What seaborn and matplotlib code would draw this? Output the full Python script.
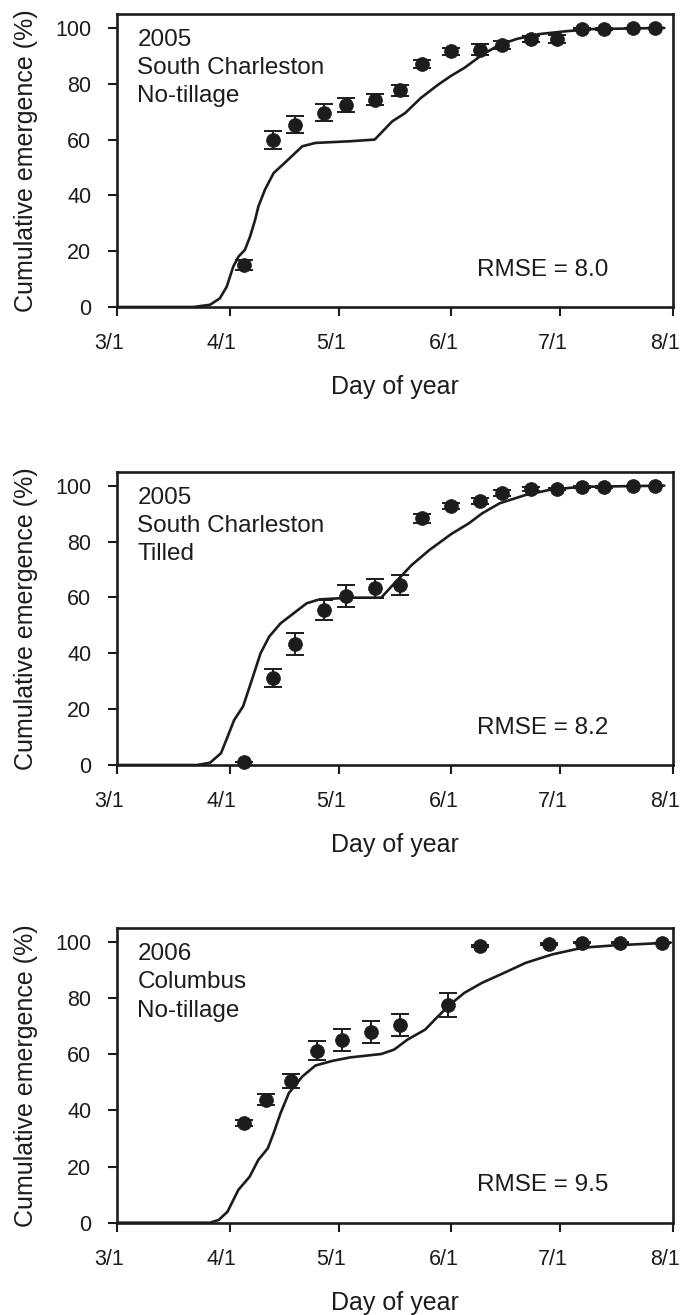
import matplotlib
matplotlib.use("Agg")
import matplotlib.pyplot as plt
import matplotlib.transforms as mtransforms
import seaborn as sns

sns.set_style("ticks")
plt.rcParams['font.family'] = ['Liberation Sans', 'DejaVu Sans']

# ---------------- data (x = day of year; 3/1 = DOY 60) ----------------
tick_doy = [60, 91, 121, 152, 182, 213]
tick_labels = ["3/1", "4/1", "5/1", "6/1", "7/1", "8/1"]
y_ticks = [0, 20, 40, 60, 80, 100]

panel_titles = [["2005", "South Charleston", "No-tillage"],
                ["2005", "South Charleston", "Tilled"],
                ["2006", "Columbus", "No-tillage"]]
rmse_labels = ["RMSE = 8.0", "RMSE = 8.2", "RMSE = 9.5"]

# observed
obs1_x = [95, 103, 109, 117, 123, 131, 138, 144, 152, 160, 166, 174, 181, 188, 194, 202, 208]
obs1_y = [15, 60, 65.4, 69.6, 72.5, 74.3, 77.7, 87.1, 91.6, 92.2, 94.0, 96.1, 96.1, 99.6, 99.6, 100, 100]
obs1_e = [1.8, 3.2, 3.0, 3.0, 2.5, 2.0, 2.0, 1.5, 1.2, 2.0, 1.5, 1.0, 1.5, 0.5, 0.5, 0, 0]

obs2_x = [95, 103, 109, 117, 123, 131, 138, 144, 152, 160, 166, 174, 181, 188, 194, 202, 208]
obs2_y = [1, 31.2, 43.3, 55.5, 60.5, 63.2, 64.4, 88.3, 92.8, 94.5, 97.3, 98.8, 98.8, 99.6, 99.6, 100, 100]
obs2_e = [0, 3.2, 4.0, 3.5, 4.0, 3.5, 3.5, 1.5, 1.0, 1.0, 1.0, 0.8, 0.5, 0.3, 0.3, 0, 0]

obs3_x = [95, 101, 108, 115, 122, 130, 138, 151, 160, 179, 188, 198.5, 210]
obs3_y = [35.5, 43.8, 50.6, 61.3, 65.0, 67.9, 70.5, 77.5, 98.6, 99.4, 99.8, 99.8, 99.8]
obs3_e = [1.0, 2.0, 2.5, 3.5, 4.0, 4.0, 4.0, 4.3, 0.5, 0.3, 0.3, 0.2, 0]

# simulated
sim1_x = [60, 81, 85.6, 88.3, 90.2, 92, 93.4, 95.2, 96.6, 98, 98.9, 100.7, 103.1, 106.1, 111, 114.6,
          124.2, 130.9, 132.7, 135.7, 139.3, 143.6, 148.4, 152, 155.6, 160.5, 165.3, 170.1, 176.2,
          183.4, 190.7, 210.6]
sim1_y = [0, 0, 0.8, 3.1, 7.3, 14.5, 18, 20.5, 25.2, 31.2, 36, 42, 48, 51.6, 57.6, 58.8,
          59.4, 60, 62.4, 66.5, 69.5, 74.9, 79.7, 82.9, 85.7, 90.4, 94, 96.1, 97.8,
          98.8, 99.6, 100]

sim2_x = [60, 82, 85.6, 88.6, 90.4, 92.2, 94.7, 97.1, 99.5, 101.9, 105, 108.6, 112.2, 115.8,
          124.2, 132.7, 136.3, 141.1, 146, 152, 156.8, 160.5, 165.3, 172.5, 179.8, 188.2, 210.6]
sim2_y = [0, 0, 0.8, 4.2, 10, 16, 21, 30.4, 40, 46, 50.7, 54.3, 57.9, 59.3,
          59.9, 59.9, 65, 71.6, 77, 82.7, 86.5, 90.1, 93.7, 96.7, 98.7, 99.6, 100]

sim3_x = [60, 85.6, 88, 90.4, 93.4, 96.5, 98.9, 101.5, 103.1, 105, 107.3, 111, 114.6, 119.4,
          124.2, 132.7, 136.3, 139.9, 144.8, 148.4, 152, 155.6, 160.5, 166.5, 172.5, 179.8,
          188.2, 196.7, 212.4]
sim3_y = [0, 0, 1, 3.9, 11.7, 16.4, 22.4, 26.5, 31.9, 39, 46.2, 52.1, 56, 57.7,
          58.9, 60.1, 61.7, 65.2, 68.8, 73.6, 78.1, 81.9, 85.5, 89, 92.6, 95.6,
          98, 98.8, 99.8]

obs = [(obs1_x, obs1_y, obs1_e), (obs2_x, obs2_y, obs2_e), (obs3_x, obs3_y, obs3_e)]
sim = [(sim1_x, sim1_y), (sim2_x, sim2_y), (sim3_x, sim3_y)]

# ---------------- layout ----------------
W, H = 684, 1315
fig = plt.figure(figsize=(W / 100, H / 100), dpi=100)
ink = "#1c1c1c"
axes_px = [(14, 307), (471.7, 765), (928, 1222.7)]  # (top, bottom) in px
left_px, right_px = 117, 673
shift_left = mtransforms.ScaledTranslation(-8 / 100, 0, fig.dpi_scale_trans)

for i in range(3):
    top, bot = axes_px[i]
    ax = fig.add_axes([left_px / W, 1 - bot / H, (right_px - left_px) / W, (bot - top) / H])
    sx, sy = sim[i]
    ox, oy, oe = obs[i]
    sns.lineplot(x=sx, y=sy, ax=ax, color=ink, linewidth=1.9, estimator=None, sort=False)
    ax.errorbar(ox, oy, yerr=oe, fmt="none", ecolor=ink, elinewidth=1.4, capsize=6.5,
                capthick=1.4, clip_on=False, zorder=3)
    sns.scatterplot(x=ox, y=oy, ax=ax, color=ink, s=100, edgecolor=ink, linewidth=0.5,
                    zorder=4, clip_on=False)
    ax.set_xlim(60, 213)
    ax.set_ylim(0, 105)
    ax.set_xticks(tick_doy)
    ax.set_xticklabels(tick_labels)
    ax.set_yticks(y_ticks)
    ax.tick_params(axis="both", direction="out", length=6.5, width=1.5, colors=ink,
                   labelsize=15.5)
    ax.tick_params(axis="y", pad=12)
    ax.tick_params(axis="x", pad=12.5)
    for lab in ax.get_xticklabels():
        lab.set_transform(lab.get_transform() + shift_left)
    for s in ax.spines.values():
        s.set_linewidth(1.9)
        s.set_color(ink)
        s.set_visible(True)
    ax.set_xlabel("Day of year", fontsize=18, color=ink, labelpad=15)
    ax.set_ylabel("Cumulative emergence (%)", fontsize=18, color=ink, labelpad=12.5)
    for j, line in enumerate(panel_titles[i]):
        ax.text(0.0365, 0.891 - j * 0.096, line, transform=ax.transAxes, fontsize=17.5,
                color=ink, ha="left", va="baseline")
    ax.text(0.647, 0.106, rmse_labels[i], transform=ax.transAxes, fontsize=17.5,
            color=ink, ha="left", va="baseline")

fig.savefig("out.png", dpi=100, facecolor="white")
